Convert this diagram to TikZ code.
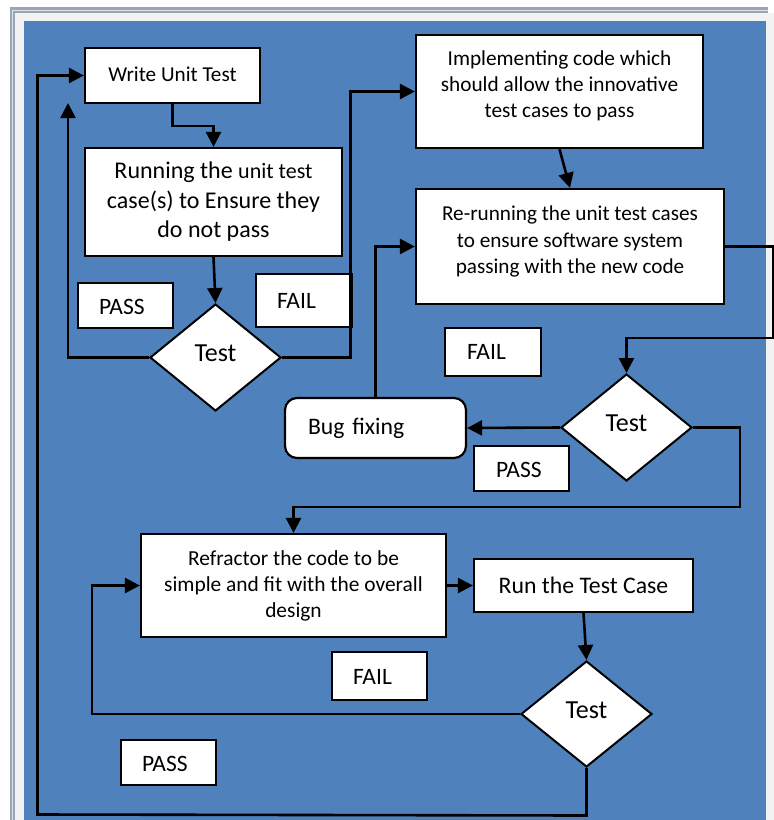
\documentclass[tikz,border=0pt]{standalone}
\usepackage{fontspec}
\setmainfont{Carlito}
\usetikzlibrary{shapes.geometric,arrows.meta}
\definecolor{bgblue}{HTML}{4F81BD}
\definecolor{framegray}{HTML}{9AA6B4}
\definecolor{framelight}{HTML}{F2F2F2}
\definecolor{framewhite}{HTML}{DDE2E8}
\begin{document}
\begin{tikzpicture}[x=1pt,y=-1pt,
  box/.style={draw=black, fill=white, line width=2.2pt, rectangle, inner sep=0pt, align=center},
  tagbox/.style={draw=black, fill=white, line width=2pt, rectangle, inner xsep=0pt, inner ysep=0pt, align=left, font=\fontsize{23.5}{27}\selectfont},
  dia/.style={diamond, draw=black, fill=white, line width=2pt, minimum width=131pt, minimum height=107pt, inner sep=0pt, font=\fontsize{26}{30}\selectfont, text depth=8pt},
  conn/.style={line width=2.6pt, -{Triangle[length=15pt,width=15pt]}}]
\useasboundingbox (0,0) rectangle (774,820);
% frame
\fill[white] (0,0) rectangle (774,820);
\fill[framegray] (10,7) rectangle (768,820);
\fill[framewhite] (12,10) rectangle (768,820);
\fill[framegray] (13,11) rectangle (768,820);
\fill[framelight] (15,13) rectangle (774,820);
\fill[bgblue] (24,21) rectangle (766,820);

% nodes
\node[box, minimum width=175pt, minimum height=55pt, font=\fontsize{21.2}{26}\selectfont, text depth=3pt] (write) at (172.5,75.5) {Write Unit Test};
\node[box, minimum width=257pt, minimum height=108pt, font=\fontsize{24}{29.5}\selectfont] (run1) at (213.5,202)
  {Running the {\fontsize{22}{29.5}\selectfont unit test}\\case(s) to Ensure they\\do not pass};
\node[tagbox, minimum width=95pt, minimum height=45pt, text width=53pt, text height=18pt] (pass1) at (125.5,305.5) {PASS};
\node[tagbox, minimum width=96pt, minimum height=53pt, text width=54pt] (fail1) at (304,300.5) {FAIL};
\node[dia] (d1) at (215.5,357.5) {Test};

\node[box, minimum width=287pt, minimum height=113pt, font=\fontsize{21.3}{26}\selectfont, text depth=14pt] (impl) at (559.5,91.5)
  {Implementing code which\\should allow the innovative\\test cases to pass};
\node[box, minimum width=308pt, minimum height=115pt, font=\fontsize{21.2}{26.7}\selectfont, text depth=13.5pt] (rerun) at (570,246.5)
  {Re-running the unit test cases\\to ensure software system\\passing with the new code};
\node[tagbox, minimum width=96pt, minimum height=48pt, text width=52pt] (fail2) at (493,352) {FAIL};
\node[draw=black, fill=white, line width=2.2pt, rectangle, rounded corners=12pt, minimum width=181pt, minimum height=60pt,
  inner xsep=0pt, text width=135pt, align=left, font=\fontsize{23.7}{28}\selectfont] (bug) at (375.5,428) {Bug fixing};
\node[dia] (d2) at (626.5,427.5) {Test};
\node[tagbox, minimum width=95pt, minimum height=45pt, text width=51pt, text height=19pt] (pass2) at (521.5,468.5) {PASS};

\node[box, minimum width=305pt, minimum height=103pt, font=\fontsize{21.4}{26}\selectfont] (refac) at (293.5,585.5)
  {Refractor the code to be\\simple and fit with the overall\\design};
\node[box, minimum width=219pt, minimum height=53pt, font=\fontsize{23.75}{28}\selectfont] (runtc) at (583.5,585.5) {Run the Test Case};
\node[dia, minimum height=106pt] (d3) at (586.5,714) {Test};
\node[tagbox, minimum width=95pt, minimum height=48pt, text width=53pt, text height=17pt] (fail3) at (379.5,676) {FAIL};
\node[tagbox, minimum width=95pt, minimum height=45pt, text width=53pt, text height=18pt] (pass3) at (168.5,762.5) {PASS};

\coordinate (passtip) at (68,103);

% connectors
\draw[conn] (write.south) -- ++(0,22) -| (run1.north);
\draw[conn] (run1.south) -- (d1.north);
\draw[conn] (d1.west) -| (passtip);
\draw[conn] (d1.east) -- ++(68.5,0) |- (impl.west);
\draw[conn] (impl.south) -- (rerun.north);
\draw[conn] (bug.north) |- (rerun.west);
\draw[conn] (rerun.east) -- ++(48,0) -- ++(0,91.5) -| (d2.north);
\draw[conn] (d2.west) -- (bug.east);
\draw[conn] (d2.east) -- ++(47,0) -- ++(0,79.5) -| (refac.north);
\draw[conn] (refac.east) -- (runtc.west);
\draw[conn] (runtc.south) -- (d3.north);
\draw[conn] (d3.west) -- ++(-428,0) |- (refac.west);
\draw[conn] (d3.south) -- ++(0,47.5) -- (37.5,814.5) |- (write.west);
\end{tikzpicture}
\end{document}
